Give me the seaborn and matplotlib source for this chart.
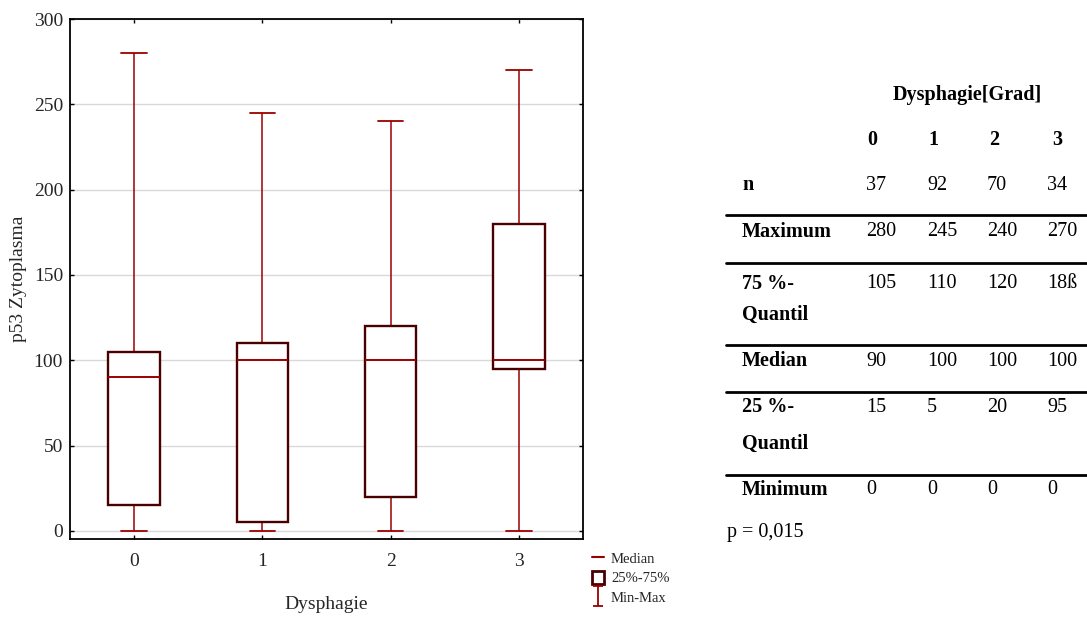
import numpy as np
import pandas as pd
import matplotlib
matplotlib.use("Agg")
import matplotlib.pyplot as plt
import seaborn as sns
from matplotlib.lines import Line2D
from matplotlib.patches import Patch
from matplotlib.path import Path

# ---- data ----
groups = ["0", "1", "2", "3"]
n_vals = [37, 92, 70, 34]
maximum = [280, 245, 240, 270]
q75 = [105, 110, 120, 180]
q75_text = ["105", "110", "120", "18ß"]
median = [90, 100, 100, 100]
q25 = [15, 5, 20, 95]
minimum = [0, 0, 0, 0]
y_ticks = [0, 50, 100, 150, 200, 250, 300]
p_text = "p = 0,015"

sns.set_theme(style="white")
plt.rcParams["font.family"] = ["Liberation Serif", "DejaVu Serif"]

rows = []
for g, mn, a, m, b, mx in zip(groups, minimum, q25, median, q75, maximum):
    for v in (mn, a, m, b, mx):
        rows.append({"Dysphagie": g, "value": v})
df = pd.DataFrame(rows)

W, H = 1087, 617
fig = plt.figure(figsize=(W / 100, H / 100), dpi=100)
ax = fig.add_axes([70 / W, 1 - 539 / H, (583 - 70) / W, (539 - 19) / H])

dark = "#4a0000"
red = "#9b0000"
sns.boxplot(data=df, x="Dysphagie", y="value", order=groups, whis=(0, 100),
            width=0.4, ax=ax, fliersize=0,
            boxprops=dict(facecolor="white", edgecolor=dark, linewidth=1.7, zorder=3),
            whiskerprops=dict(color=red, linewidth=1.1, zorder=2),
            capprops=dict(color=red, linewidth=1.3, zorder=3),
            medianprops=dict(color=red, linewidth=1.4, zorder=4))

ax.set_xlim(-0.5, 3.5)
ax.set_ylim(-4.7, 300)
ax.set_yticks(y_ticks)
ax.yaxis.grid(True, color="#d9d9d9", linewidth=1.0, zorder=0)
ax.set_axisbelow(True)
for s in ax.spines.values():
    s.set_visible(True)
    s.set_color("black")
    s.set_linewidth(1.3)
ax.tick_params(axis="both", direction="in", length=3, width=1.0, labelsize=14,
               top=True, right=True, bottom=True, left=True, color="black")
ax.tick_params(axis="x", pad=10)
ax.tick_params(axis="y", pad=5)
ax.set_xlabel("Dysphagie", fontsize=14, labelpad=19)
ax.set_ylabel("p53 Zytoplasma", fontsize=14, labelpad=5)

# legend
ipath = Path([(-0.5, 1), (0.5, 1), (0, 1), (0, -1), (-0.5, -1), (0.5, -1)],
             [Path.MOVETO, Path.LINETO, Path.MOVETO, Path.LINETO, Path.MOVETO, Path.LINETO])
handles = [
    Line2D([], [], color=red, linewidth=1.5),
    Patch(facecolor="white", edgecolor=dark, linewidth=2.0),
    Line2D([], [], linestyle="none", marker=ipath, markersize=14,
           markeredgecolor=red, markerfacecolor="none", markeredgewidth=1.3),
]
ax.legend(handles, ["Median", "25%-75%", "Min-Max"], loc="upper left",
          bbox_to_anchor=(592 / W, 1 - 551 / H), bbox_transform=fig.transFigure,
          frameon=False, fontsize=10.5, handlelength=0.8, handleheight=1.0,
          handletextpad=0.5, labelspacing=0.35, borderpad=0, borderaxespad=0)

# table
def ftext(x, y, s, bold=False, size=14.5, ha="left"):
    fig.text(x / W, 1 - y / H, s, ha=ha, va="center",
             fontsize=size, fontweight="bold" if bold else "normal", color="black")

col_x = [866, 927, 987, 1047]
ftext(967, 95, "Dysphagie[Grad]", bold=True, ha="center")
for x, g in zip([867, 928, 989, 1052], groups):
    ftext(x, 140, g, bold=True)

lx = 742
ftext(lx, 185, "n", bold=True)
for x, v in zip(col_x, n_vals):
    ftext(x, 185, str(v))
ftext(lx, 232, "Maximum", bold=True)
for x, v in zip(col_x, maximum):
    ftext(x, 232, str(v))
ftext(lx, 284, "75 %-", bold=True)
ftext(lx, 315, "Quantil", bold=True)
for x, v in zip(col_x, q75_text):
    ftext(x, 284, v)
ftext(lx, 361, "Median", bold=True)
for x, v in zip(col_x, median):
    ftext(x, 361, str(v))
ftext(lx, 407, "25 %-", bold=True)
ftext(lx, 444, "Quantil", bold=True)
for x, v in zip(col_x, q25):
    ftext(x, 407, str(v))
ftext(lx, 490, "Minimum", bold=True)
for x, v in zip(col_x, minimum):
    ftext(x, 490, str(v))
ftext(727, 533, p_text)

for yl in [215, 263, 345, 392, 475]:
    fig.add_artist(Line2D([726 / W, 1.0], [1 - yl / H, 1 - yl / H],
                          transform=fig.transFigure, color="black", linewidth=2.0))

fig.savefig("out.png", dpi=100, facecolor="white")
